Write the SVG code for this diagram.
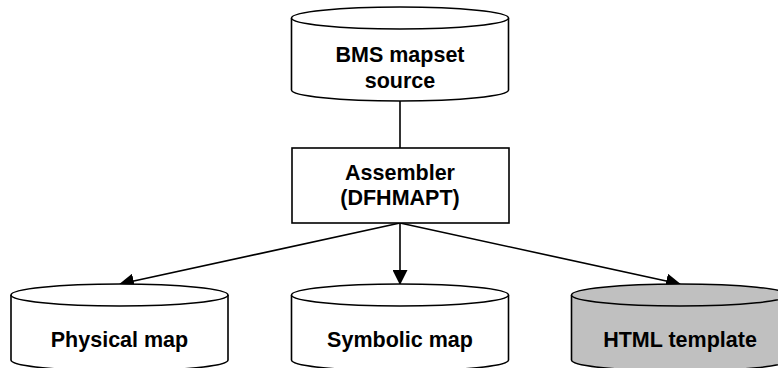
<svg xmlns="http://www.w3.org/2000/svg" width="778" height="368" viewBox="0 0 778 368">
<defs>
<style>
.s{stroke:#000;stroke-width:1.6;fill:#fff}
.g{fill:#c0c0c0}
.t{font-family:"Liberation Sans",Arial,sans-serif;font-weight:bold;font-size:21.5px;text-anchor:middle;fill:#000}
.c{stroke:#000;stroke-width:1.6;fill:none}
</style>
<marker id="ah" markerWidth="15" markerHeight="15" viewBox="0 0 15 15" refX="14" refY="7.5" orient="auto" markerUnits="userSpaceOnUse">
<path d="M0,0 L15,7.5 L0,15 z" fill="#000"/>
</marker>
</defs>
<rect width="778" height="368" fill="#fff"/>
<g id="connectors">
<line class="c" x1="400" y1="101" x2="400" y2="148"/>
<line class="c" x1="400" y1="223" x2="120" y2="284" marker-end="url(#ah)"/>
<line class="c" x1="400" y1="223" x2="400" y2="284" marker-end="url(#ah)"/>
<line class="c" x1="400" y1="223" x2="680" y2="284" marker-end="url(#ah)"/>
</g>
<g id="bms">
<path class="s" d="M291.5,18 L291.5,90 A108.5,11 0 0 0 508.5,90 L508.5,18"/>
<ellipse class="s" cx="400" cy="18" rx="108.5" ry="11"/>
<text class="t" x="400" y="62">BMS mapset</text>
<text class="t" x="400" y="88">source</text>
</g>
<g id="assembler">
<rect class="s" x="292" y="148" width="217" height="75"/>
<text class="t" x="400" y="180">Assembler</text>
<text class="t" x="400" y="205">(DFHMAPT)</text>
</g>
<g id="physical">
<path class="s" d="M11,295 L11,360 A108.5,11 0 0 0 228,360 L228,295"/>
<ellipse class="s" cx="119.5" cy="295" rx="108.5" ry="11"/>
<text class="t" x="119.5" y="347">Physical map</text>
</g>
<g id="symbolic">
<path class="s" d="M291.5,295 L291.5,360 A108.5,11 0 0 0 508.5,360 L508.5,295"/>
<ellipse class="s" cx="400" cy="295" rx="108.5" ry="11"/>
<text class="t" x="400" y="347">Symbolic map</text>
</g>
<g id="html">
<path class="s g" d="M571.5,295 L571.5,360 A108.5,11 0 0 0 788.5,360 L788.5,295"/>
<ellipse class="s g" cx="680" cy="295" rx="108.5" ry="11"/>
<text class="t" x="680" y="347">HTML template</text>
</g>
</svg>
